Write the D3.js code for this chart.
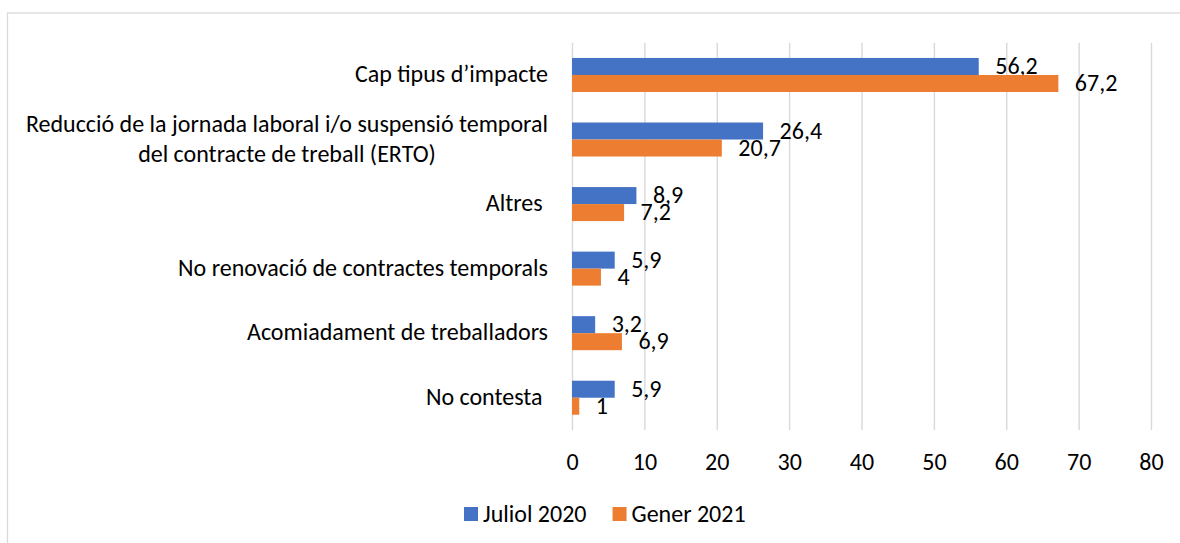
<!DOCTYPE html>
<html>
<head>
<meta charset="utf-8">
<script src="https://cdn.jsdelivr.net/npm/d3@7"></script>
<style>
  body { margin: 0; background: #fff; }
  svg text { font-family: Carlito, Calibri, "Open Sans", sans-serif; fill: #000; white-space: pre; }
</style>
</head>
<body>
<svg id="chart"></svg>
<script>
// chart data
var categories = [
  "Cap tipus d\u2019impacte",
  "Reducció de la jornada laboral i/o suspensió temporal\ndel contracte de treball (ERTO)",
  "Altres ",
  "No renovació de contractes temporals",
  "Acomiadament de treballadors",
  "No contesta "
];
var seriesNames = ["Juliol 2020", "Gener 2021"];
var juliol2020 = [56.2, 26.4, 8.9, 5.9, 3.2, 5.9];
var gener2021 = [67.2, 20.7, 7.2, 4, 6.9, 1];
var xTicks = [0, 10, 20, 30, 40, 50, 60, 70, 80];
var colors = ["#4472C4", "#ED7D31"];

var width = 1180, height = 543;
var fontSize = 24;
var margin = {top: 42.7, right: 29, bottom: 113, left: 572};

var svg = d3.select("#chart")
    .attr("width", width)
    .attr("height", height);

// outer frame
svg.append("rect")
    .attr("x", 7.5).attr("y", 13)
    .attr("width", width + 20).attr("height", height + 20)
    .attr("fill", "none")
    .attr("stroke", "#d9d9d9")
    .attr("stroke-width", 1.3);

var plotW = width - margin.left - margin.right;
var plotH = height - margin.top - margin.bottom;

var g = svg.append("g")
    .attr("transform", "translate(" + margin.left + "," + margin.top + ")");

var x = d3.scaleLinear()
    .domain([0, 80])
    .range([0, plotW]);

var y = d3.scaleBand()
    .domain(d3.range(categories.length))
    .range([0, plotH])
    .paddingInner(0.473)
    .paddingOuter(0.2365);

var ySub = d3.scaleBand()
    .domain([0, 1])
    .range([0, y.bandwidth()]);

// gridlines + tick labels
var xAxis = g.append("g")
    .attr("transform", "translate(0," + plotH + ")")
    .call(d3.axisBottom(x).tickValues(xTicks).tickSize(-plotH).tickFormat(d3.format("d")));
xAxis.select(".domain").remove();
xAxis.selectAll(".tick line")
    .attr("stroke", "#d9d9d9")
    .attr("stroke-width", 1.4);
xAxis.selectAll(".tick text")
    .attr("y", 32)
    .attr("dy", "0.32em")
    .style("font-size", fontSize + "px");

// category labels
var yAxis = g.append("g")
    .call(d3.axisLeft(y).tickSize(0).tickFormat(""));
yAxis.select(".domain").remove();

var labelRight = -24;
var lineH = 1.25;
categories.forEach(function(c, i) {
    var lines = c.split("\n");
    var cy = y(i) + y.bandwidth() / 2;
    var t = g.append("text")
        .attr("y", cy)
        .style("font-size", fontSize + "px");
    lines.forEach(function(line, k) {
        t.append("tspan")
            .attr("dy", k == 0 ? (0.3 - (lines.length - 1) * lineH / 2) + "em" : lineH + "em")
            .text(line);
    });
    if (lines.length == 1) {
        t.attr("text-anchor", "end").attr("x", labelRight);
        t.selectAll("tspan").attr("x", labelRight);
    } else {
        // lines centered on each other, block right aligned
        var maxW = 0;
        t.selectAll("tspan").each(function() {
            maxW = Math.max(maxW, this.getComputedTextLength());
        });
        t.attr("text-anchor", "middle");
        t.selectAll("tspan").attr("x", labelRight - maxW / 2);
    }
});

// bars
var seriesData = [juliol2020, gener2021];
seriesData.forEach(function(vals, s) {
    g.selectAll(".bar-" + s)
        .data(vals)
        .enter()
        .append("rect")
        .attr("class", "bar-" + s)
        .attr("x", x(0))
        .attr("y", function(d, i) { return y(i) + ySub(s); })
        .attr("width", function(d) { return x(d) - x(0); })
        .attr("height", ySub.bandwidth())
        .attr("fill", colors[s]);

    g.selectAll(".lbl-" + s)
        .data(vals)
        .enter()
        .append("text")
        .attr("class", "lbl-" + s)
        .attr("x", function(d) { return x(d) + 16.5; })
        .attr("y", function(d, i) { return y(i) + ySub(s) + ySub.bandwidth() / 2; })
        .attr("dy", "0.32em")
        .style("font-size", fontSize + "px")
        .text(function(d) { return String(d).replace(".", ","); });
});

// legend
var legend = svg.append("g").attr("transform", "translate(464,507)");
var lx = 0;
seriesNames.forEach(function(name, s) {
    legend.append("rect")
        .attr("x", lx).attr("y", 0)
        .attr("width", 14).attr("height", 14)
        .attr("fill", colors[s]);
    var txt = legend.append("text")
        .attr("x", lx + 19)
        .attr("y", 7)
        .attr("dy", "0.32em")
        .style("font-size", fontSize + "px")
        .text(name);
    lx += 19 + txt.node().getComputedTextLength() + 26;
});
</script>
</body>
</html>
